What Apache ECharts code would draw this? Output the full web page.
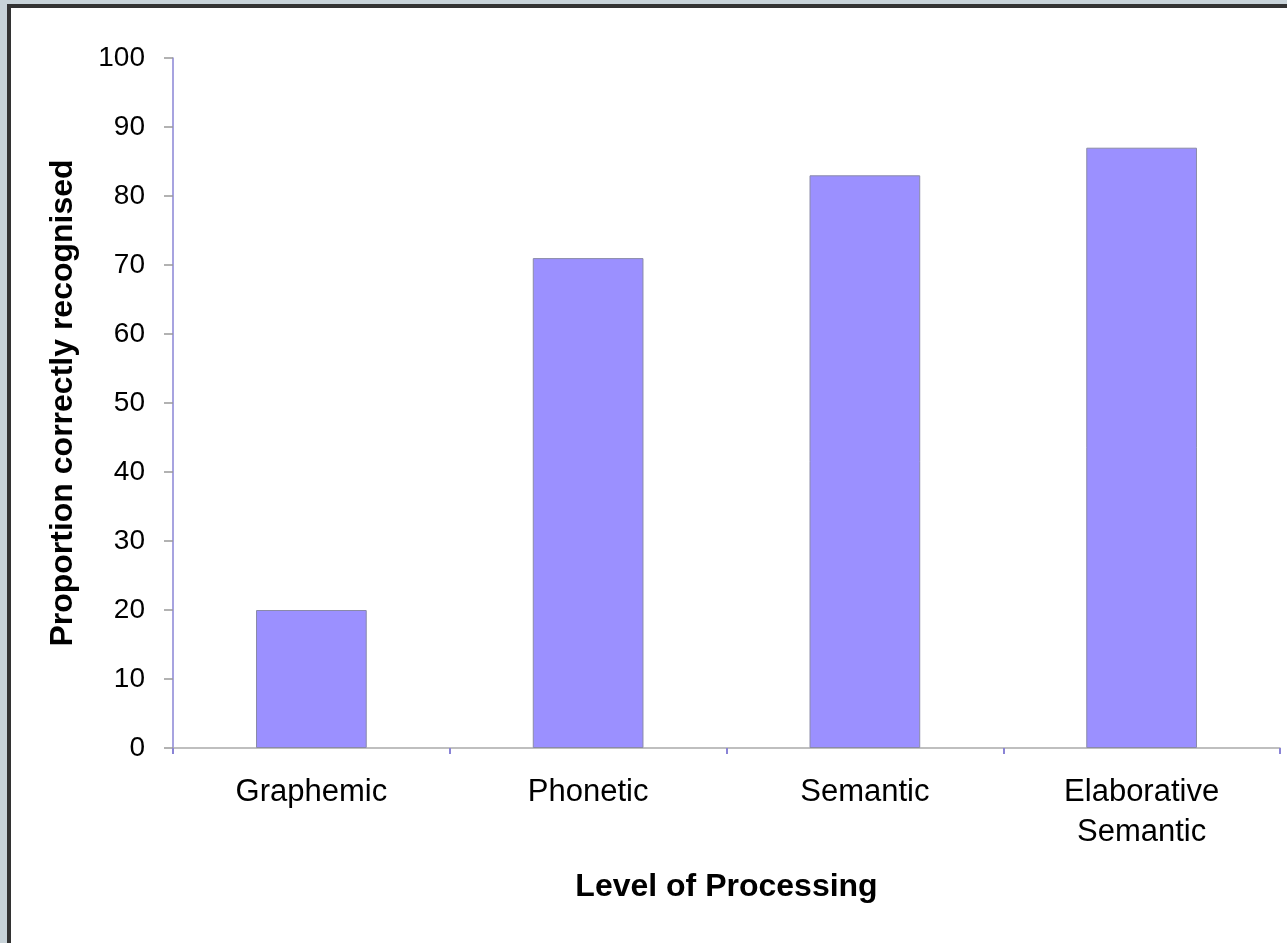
<!DOCTYPE html>
<html>
<head>
<meta charset="utf-8">
<script src="https://cdn.jsdelivr.net/npm/echarts@6/dist/echarts.min.js"></script>
<style>
html, body { margin: 0; padding: 0; width: 1287px; height: 943px; overflow: hidden; background: #c8d3d9; }
#frame { position: absolute; left: 7px; top: 4px; width: 1300px; height: 960px; background: #ffffff;
  border-left: 4px solid #333333; border-top: 4px solid #333333; box-sizing: border-box; }
#chart { position: absolute; left: 0; top: 0; width: 1287px; height: 943px; }
</style>
</head>
<body>
<div id="frame"></div>
<div id="chart"></div>
<script>
const categories = ['Graphemic', 'Phonetic', 'Semantic', 'Elaborative\nSemantic'];
const values = [20, 71, 83, 87];
const yMin = 0, yMax = 100, yInterval = 10;
const xTitle = 'Level of Processing';
const yTitle = 'Proportion correctly recognised';

const chart = echarts.init(document.getElementById('chart'));
chart.setOption({
  backgroundColor: 'transparent',
  animation: false,
  grid: { left: 173, right: 7, top: 58, bottom: 195 },
  xAxis: {
    type: 'category',
    data: categories,
    name: xTitle,
    nameLocation: 'middle',
    nameGap: 123,
    nameTextStyle: { fontFamily: 'Liberation Sans', fontWeight: 'bold', fontSize: 32, color: '#000' },
    axisLine: { lineStyle: { color: '#aaaaaa', width: 1.5 } },
    axisTick: { show: true, length: 6, interval: 0, lineStyle: { color: '#8a84d6', width: 2 } },
    axisLabel: { interval: 0, fontFamily: 'Liberation Sans', fontSize: 31, color: '#000', lineHeight: 40, margin: 24 },
    splitLine: { show: false }
  },
  yAxis: {
    type: 'value',
    min: yMin, max: yMax, interval: yInterval,
    name: yTitle,
    nameLocation: 'middle',
    nameGap: 94,
    nameTextStyle: { fontFamily: 'Liberation Sans', fontWeight: 'bold', fontSize: 32, color: '#000' },
    axisLine: { show: true, lineStyle: { color: '#8a84d6', width: 1.5 } },
    axisTick: { show: true, length: 9, lineStyle: { color: '#999999', width: 1.5 } },
    axisLabel: { fontFamily: 'Liberation Sans', fontSize: 28, color: '#000', margin: 28 },
    splitLine: { show: false }
  },
  series: [{
    type: 'bar',
    data: values,
    barWidth: '40%',
    itemStyle: { color: '#9b90ff', borderColor: '#8a8aa8', borderWidth: 1 }
  }]
});
</script>
</body>
</html>
